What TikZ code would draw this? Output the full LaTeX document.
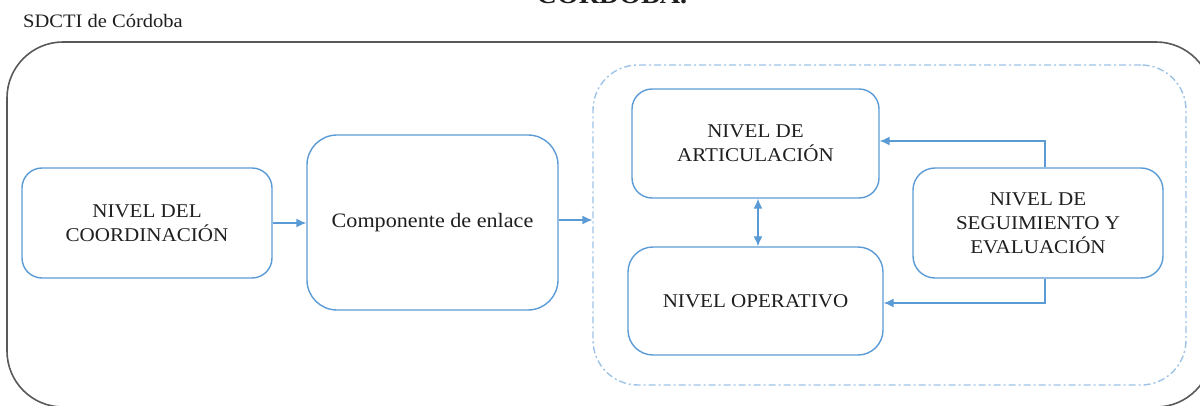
\documentclass[tikz,border=0pt]{standalone}
\usepackage{fontspec}
\setmainfont{Liberation Serif}[FakeStretch=1.08]
\usetikzlibrary{arrows.meta,calc}
\definecolor{boxblue}{HTML}{5B9BD5}
\definecolor{lightblue}{HTML}{9DC3E6}
\definecolor{outergray}{HTML}{595959}
\definecolor{txt}{HTML}{1F1F1F}
\tikzset{
  blbox/.style={draw=boxblue, line width=1.4pt, align=center, text=txt,
    font=\fontsize{19.5}{24}\selectfont, inner sep=0pt},
  arr/.style={draw=boxblue, line width=1.4pt, -{Latex[length=10pt,width=9pt]}},
  darr/.style={draw=boxblue, line width=1.4pt, {Latex[length=10pt,width=9pt]}-{Latex[length=10pt,width=9pt]}},
}
\begin{document}
\begin{tikzpicture}[x=1pt,y=-1pt]
\useasboundingbox (0,0) rectangle (1200,406);
\clip (0,0) rectangle (1200,406);
% title fragment cut at top (as in the reference)
\node[anchor=base, font=\fontsize{26}{30}\selectfont\bfseries, text=txt] (titulo) at (612,4) {CÓRDOBA.};
\node[anchor=base west, font=\fontsize{19}{22}\selectfont, text=txt, inner sep=0pt] (sdcti) at (23,28) {SDCTI de Córdoba};
% outer box
\node[draw=outergray, line width=1.6pt, rounded corners=56pt, minimum width=1205pt, minimum height=365pt, inner sep=0pt] (outer) at (609.5,224.5) {};
% dashed group
\node[draw=lightblue, line width=1.4pt, rounded corners=45pt, dash pattern=on 7pt off 3pt on 2pt off 3pt, minimum width=593pt, minimum height=320pt, inner sep=0pt] (grupo) at (889.5,225) {};
% boxes
\node[blbox, rounded corners=20pt, minimum width=250pt, minimum height=110pt] (coord) at (147,223) {NIVEL DEL\\COORDINACIÓN};
\node[blbox, font=\fontsize{20.5}{24}\selectfont, rounded corners=30pt, minimum width=251pt, minimum height=175pt] (comp) at (432.5,222.5) {Componente de enlace};
\node[blbox, rounded corners=20pt, minimum width=247pt, minimum height=109pt] (art) at (755.5,143.5) {NIVEL DE\\ARTICULACIÓN};
\node[blbox, rounded corners=25pt, minimum width=255pt, minimum height=108pt] (op) at (755.5,301) {NIVEL OPERATIVO};
\node[blbox, rounded corners=22pt, minimum width=250pt, minimum height=110pt] (seg) at (1038,223) {NIVEL DE\\SEGUIMIENTO Y\\EVALUACIÓN};
% connectors
\draw[arr] (coord.east) -- (coord.east -| comp.west);
\draw[arr] ([yshift=2.5pt]comp.east) -- ([yshift=2.5pt]comp.east -| grupo.west);
\draw[darr] ([xshift=2.5pt]art.south) -- ([xshift=2.5pt]art.south |- op.north);
\draw[arr] ([xshift=7pt]seg.north) |- ([yshift=2.5pt]art.east);
\draw[arr] ([xshift=7pt]seg.south) |- ([yshift=-2pt]op.east);
\end{tikzpicture}
\end{document}
